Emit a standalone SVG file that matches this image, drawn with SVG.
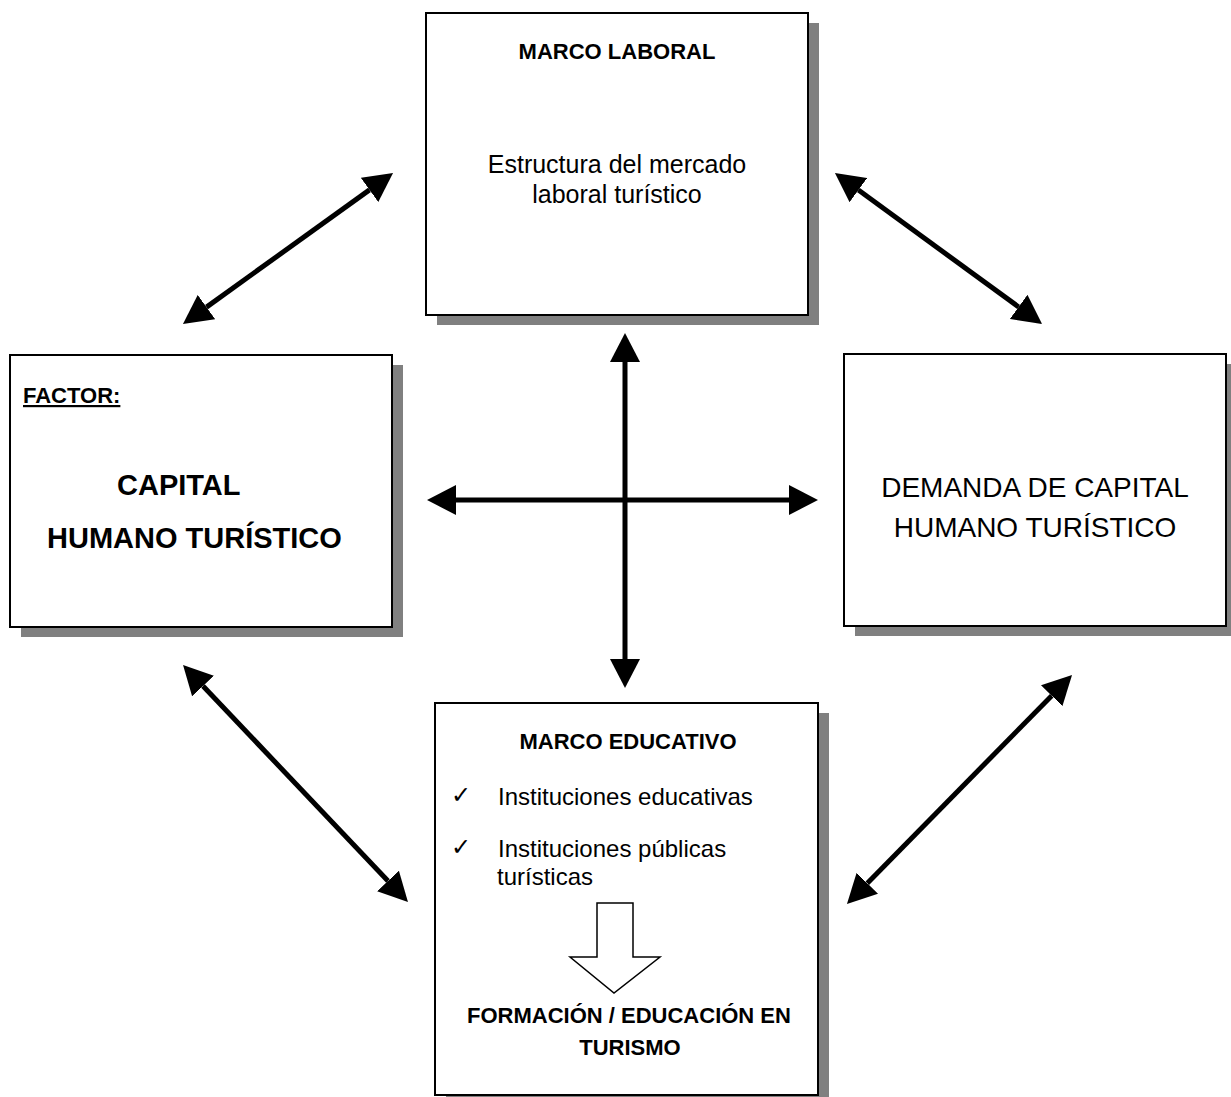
<svg xmlns="http://www.w3.org/2000/svg" width="1231" height="1097" viewBox="0 0 1231 1097">
<style>
.shadow{fill:#808080;stroke:none}
.box{fill:#fff;stroke:#000;stroke-width:2}
.t{font-family:"Liberation Sans",Arial,sans-serif;fill:#000}
.b{font-weight:bold}
.c{text-anchor:middle}
.conn{stroke:#000;stroke-width:5;fill:none;marker-start:url(#ah);marker-end:url(#ah)}
.chk{font-family:"DejaVu Sans",sans-serif;font-size:24px;fill:#000}
</style>
<defs>
<marker id="ah" markerUnits="userSpaceOnUse" markerWidth="30" markerHeight="30" refX="0" refY="15" orient="auto-start-reverse" viewBox="0 0 30 30">
<path d="M0,0 L29,15 L0,30 Z" fill="#000"/>
</marker>
</defs>
<rect width="1231" height="1097" fill="#fff"/>
<g id="marco-laboral">
<rect class="shadow" x="437" y="23" width="382" height="302"/>
<rect class="box" x="426" y="13" width="382" height="302"/>
<text class="t b c" x="617" y="59" font-size="22">MARCO LABORAL</text>
<text class="t c" x="617" y="173" font-size="25">Estructura del mercado</text>
<text class="t c" x="617" y="203" font-size="25">laboral turístico</text>
</g>
<g id="factor-capital">
<rect class="shadow" x="21" y="365" width="382" height="272"/>
<rect class="box" x="10" y="355" width="382" height="272"/>
<text class="t b" x="23" y="403" font-size="22" text-decoration="underline">FACTOR:</text>
<text class="t b" x="117" y="495" font-size="29">CAPITAL</text>
<text class="t b" x="47" y="548" font-size="29">HUMANO TURÍSTICO</text>
</g>
<g id="demanda">
<rect class="shadow" x="855" y="364" width="382" height="272"/>
<rect class="box" x="844" y="354" width="382" height="272"/>
<text class="t c" x="1035" y="497" font-size="28">DEMANDA DE CAPITAL</text>
<text class="t c" x="1035" y="537" font-size="28">HUMANO TURÍSTICO</text>
</g>
<g id="marco-educativo">
<rect class="shadow" x="446" y="713" width="383" height="392"/>
<rect class="box" x="435" y="703" width="383" height="392"/>
<text class="t b c" x="628" y="749" font-size="22">MARCO EDUCATIVO</text>
<text class="chk" x="451" y="803">✓</text>
<text class="t" x="498" y="805" font-size="24">Instituciones educativas</text>
<text class="chk" x="451" y="855">✓</text>
<text class="t" x="498" y="857" font-size="24">Instituciones públicas</text>
<text class="t" x="497" y="885" font-size="24">turísticas</text>
<path d="M597,903 L633,903 L633,957 L660,957 L614,993 L570,957 L597,957 Z" fill="#fff" stroke="#000" stroke-width="1.5"/>
<text class="t b c" x="629" y="1023" font-size="22">FORMACIÓN / EDUCACIÓN EN</text>
<text class="t b c" x="630" y="1055" font-size="22">TURISMO</text>
</g>
<g id="connectors">
<line class="conn" x1="456" y1="500" x2="789" y2="500"/>
<line class="conn" x1="625" y1="362" x2="625" y2="659"/>
<line class="conn" x1="206.5" y1="307.1" x2="369.5" y2="189.9"/>
<line class="conn" x1="858.4" y1="190.1" x2="1018.6" y2="306.9"/>
<line class="conn" x1="203" y1="686" x2="388" y2="881"/>
<line class="conn" x1="1051.7" y1="695.7" x2="867.3" y2="883.3"/>
</g>
</svg>
